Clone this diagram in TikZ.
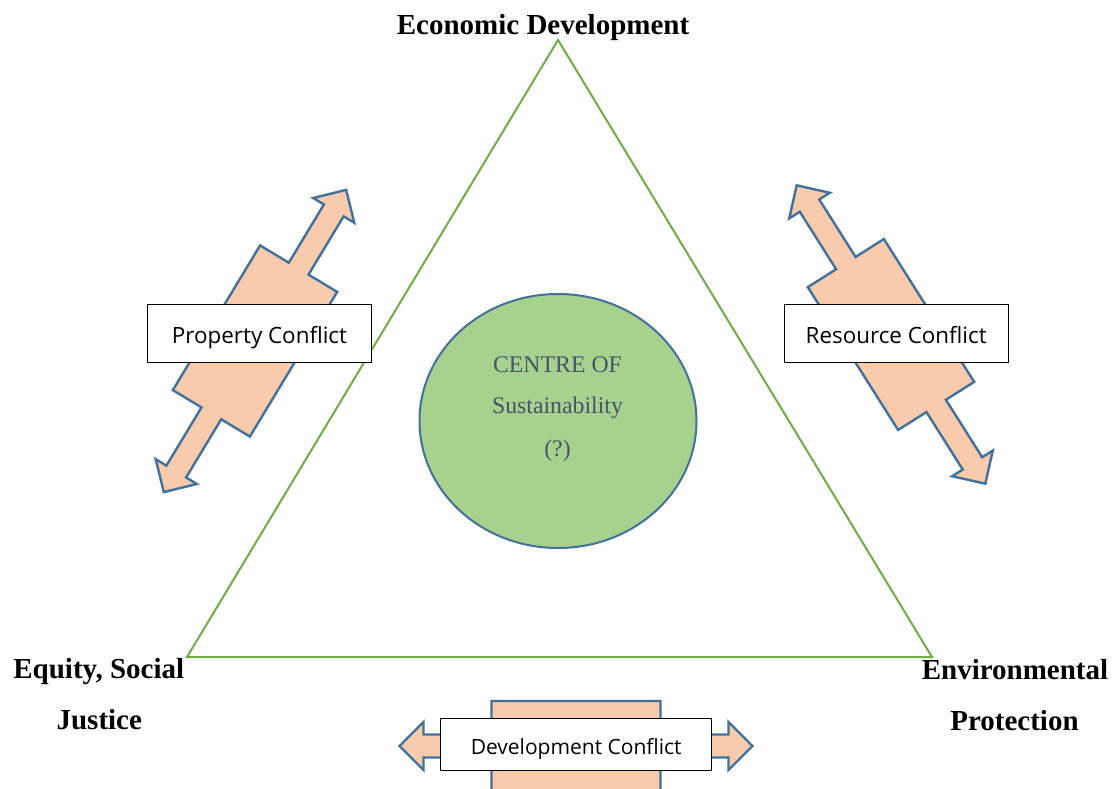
\documentclass[tikz,border=0pt]{standalone}
\usepackage{fontspec}
\setmainfont{Liberation Serif}
\newfontfamily\boxfont{Open Sans}
\definecolor{trigreen}{HTML}{70AD47}
\definecolor{ellfill}{HTML}{A9D18E}
\definecolor{edgeblue}{HTML}{41719C}
\definecolor{arrfill}{HTML}{F8CBAD}
\definecolor{centretext}{HTML}{44546A}
\tikzset{
  triline/.style={draw=trigreen, line width=2pt, line join=miter},
  centreell/.style={ellipse, draw=edgeblue, fill=ellfill, line width=2pt, minimum width=277pt, minimum height=254pt, inner sep=0pt},
  centretxt/.style={anchor=base, inner sep=0pt, text=centretext, font=\fontsize{23.8}{24}\selectfont},
  bigtxt/.style={anchor=base, inner sep=0pt, font=\fontsize{29}{29}\selectfont\bfseries},
  arrowbody/.style={draw=edgeblue, fill=arrfill, line width=2.4pt, line join=miter},
  labelbox/.style={draw=black, fill=white, line width=1.1pt, inner sep=0pt, text height=20pt, text depth=0pt, font=\boxfont\fontsize{22.4}{22}\selectfont},
  dblarrow/.pic={
    \path[arrowbody] (176.5,0) -- (152.5,24) -- (152.5,11.5) -- (84.5,11.5) -- (84.5,45)
      -- (-84.5,45) -- (-84.5,11.5) -- (-152.5,11.5) -- (-152.5,24) -- (-176.5,0)
      -- (-152.5,-24) -- (-152.5,-11.5) -- (-84.5,-11.5) -- (-84.5,-45) -- (84.5,-45)
      -- (84.5,-11.5) -- (152.5,-11.5) -- (152.5,-24) -- cycle;
  }
}
\usetikzlibrary{shapes.geometric}
\begin{document}
\begin{tikzpicture}[x=1pt,y=-1pt]
\clip (0,0) rectangle (1120,789);
\fill[white] (0,0) rectangle (1120,789);
% triangle
\coordinate (apex) at (558,40);
\coordinate (bl) at (187,657);
\coordinate (br) at (932,657);
\draw[triline] (apex) -- (bl) -- (br) -- cycle;
% centre
\node[centreell] (centre) at (558,421) {};
\node[centretxt] (c1) at (557.5,372.7) {CENTRE OF};
\node[centretxt] (c2) at (557.5,413) {Sustainability};
\node[centretxt] (c3) at (557.5,456) {(?)};
% arrows
\pic[rotate=58.9] at (255,341) {dblarrow};
\pic[rotate=122.3] at (891,334.5) {dblarrow};
\pic at (576,746) {dblarrow};
% label boxes
\node[labelbox, minimum width=224.5pt, minimum height=58pt] (prop) at (259.5,333.3) {Property Conflict};
\node[labelbox, minimum width=224.3pt, minimum height=58pt] (res) at (896.2,333.2) {Resource Conflict};
\node[labelbox, minimum width=271pt, minimum height=51.7pt, font=\boxfont\fontsize{21}{21}\selectfont] (dev) at (576.2,744.2) {Development Conflict};
% corner labels
\node[bigtxt] (econ) at (543,35) {Economic Development};
\node[bigtxt] (eq1) at (98.8,678.3) {Equity, Social};
\node[bigtxt] (eq2) at (99.3,729.3) {Justice};
\node[bigtxt] (env1) at (1015,679.3) {Environmental};
\node[bigtxt] (env2) at (1014.5,730) {Protection};
\end{tikzpicture}
\end{document}
